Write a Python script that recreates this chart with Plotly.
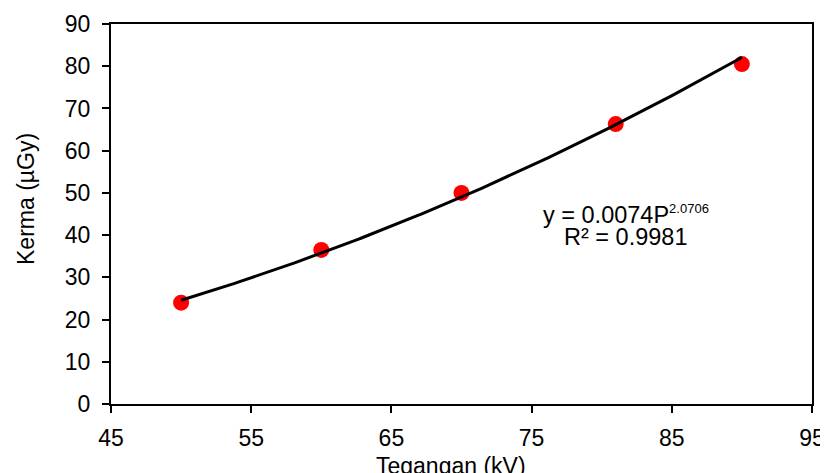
import numpy as np
import plotly.graph_objects as go

voltage_kv = [50, 60, 70, 81, 90]
kerma_ugy = [24.0, 36.5, 50.0, 66.3, 80.5]
x_ticks = [45, 55, 65, 75, 85, 95]
y_ticks = [0, 10, 20, 30, 40, 50, 60, 70, 80, 90]

# power trendline fitted to the data (Excel-style log-log fit)
b, ln_a = np.polyfit(np.log(voltage_kv), np.log(kerma_ugy), 1)
a = np.exp(ln_a)
xf = np.linspace(min(voltage_kv), max(voltage_kv), 200)
yf = a * xf ** b

font = "Liberation Sans, Arial, sans-serif"
FS = 23
EQ_FS = 23.5
# page body has an 8px margin; figure sized so it fills the window
OFF = 8
W, H = 820, 465
l, r, t, bm = 103, 16, 16, 69
pw, ph = W - l - r, H - t - bm


def px(x):
    return (x - OFF - l) / pw


def py(y):
    return 1 - (y - OFF - t) / ph


fig = go.Figure()
fig.add_trace(go.Scatter(x=voltage_kv, y=kerma_ugy, mode="markers",
                         marker=dict(color="#ff0000", size=16), showlegend=False))
fig.add_trace(go.Scatter(x=xf, y=yf, mode="lines",
                         line=dict(color="black", width=3), showlegend=False))

axis_common = dict(showgrid=False, zeroline=False, showline=True, linecolor="black",
                   linewidth=2, mirror=True, ticks="outside", ticklen=7, tickwidth=1.5,
                   tickcolor="black", automargin=False,
                   tickfont=dict(size=FS, family=font, color="black"))

fig.update_layout(
    width=W, height=H,
    margin=dict(l=l, r=r, t=t, b=bm, pad=0, autoexpand=False),
    paper_bgcolor="white", plot_bgcolor="white",
    font=dict(family=font, size=FS, color="black"),
    xaxis=dict(range=[45, 95], tickvals=x_ticks, ticklabelstandoff=5, **axis_common),
    yaxis=dict(range=[0, 90], tickvals=y_ticks, ticklabelstandoff=7, **axis_common),
    annotations=[
        dict(text="y = 0.0074P<sup><span style='font-size:13px'>2.0706</span></sup>",
             x=px(626), y=py(214),
             xref="paper", yref="paper", showarrow=False,
             font=dict(size=EQ_FS, family=font, color="black"),
             xanchor="center", yanchor="middle"),
        dict(text="R² = 0.9981", x=px(625), y=py(237),
             xref="paper", yref="paper", showarrow=False,
             font=dict(size=EQ_FS, family=font, color="black"),
             xanchor="center", yanchor="middle"),
        dict(text="Tegangan (kV)", x=px(451), y=py(466),
             xref="paper", yref="paper", showarrow=False,
             font=dict(size=FS, family=font, color="black"),
             xanchor="center", yanchor="middle"),
        dict(text="Kerma (µGy)", x=px(26), y=py(199),
             xref="paper", yref="paper", showarrow=False,
             font=dict(size=FS, family=font, color="black"),
             textangle=-90, xanchor="center", yanchor="middle"),
    ],
)
fig.write_html("out.html")
